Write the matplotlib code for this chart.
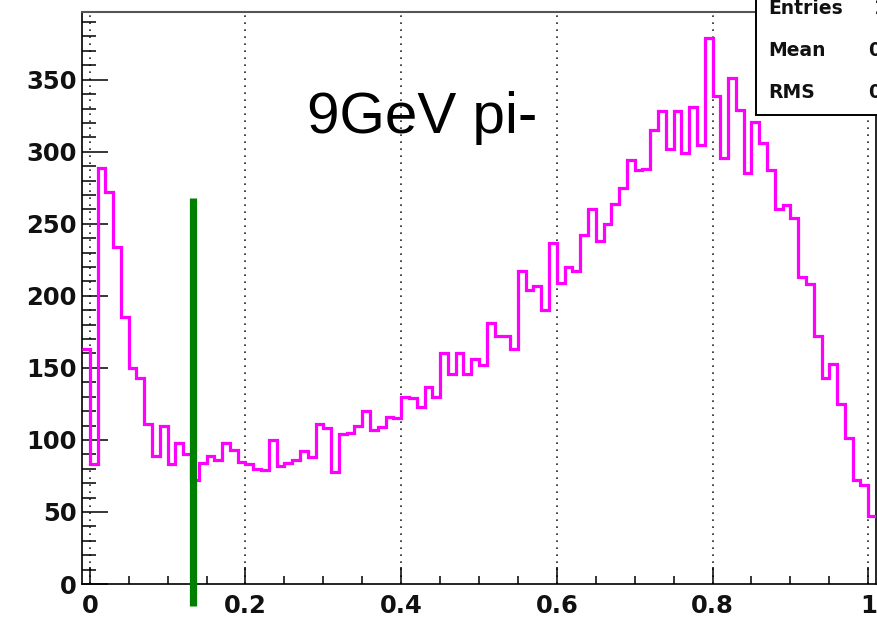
import numpy as np
import matplotlib
matplotlib.use("Agg")
import matplotlib.pyplot as plt
from matplotlib.ticker import FixedLocator, MultipleLocator
from matplotlib.patches import Rectangle

# Histogram contents: 102 bins of width 0.01 from -0.01 to 1.01
hist_range = (-0.01, 1.01)
counts = [
    163, 83, 289, 272, 234, 185, 150, 143, 111, 89,
    110, 83, 98, 90, 72, 84, 89, 86, 98, 93,
    85, 83, 80, 79, 100, 82, 84, 86, 92, 88,
    111, 108, 78, 104, 105, 110, 120, 107, 109, 116,
    115, 130, 129, 123, 137, 130, 160, 146, 160, 146,
    156, 152, 181, 172, 172, 163, 217, 204, 207, 190,
    237, 209, 220, 217, 242, 260, 238, 250, 264, 275,
    294, 287, 288, 315, 328, 302, 328, 299, 331, 305,
    379, 339, 296, 351, 329, 285, 321, 306, 287, 260,
    263, 254, 213, 208, 172, 143, 153, 125, 101, 72,
    69, 47,
]
cut_x = 0.132
cut_y = (-15, 268)

x_ticks = [0.0, 0.2, 0.4, 0.6, 0.8, 1.0]
x_tick_labels = ["0", "0.2", "0.4", "0.6", "0.8", "1"]
y_ticks = [0, 50, 100, 150, 200, 250, 300, 350]
y_tick_labels = ["0", "50", "100", "150", "200", "250", "300", "350"]
title_text = "9GeV pi-"
stat_names = ["Entries", "Mean", "RMS"]

W, H = 877, 621
fig = plt.figure(figsize=(W / 100, H / 100), dpi=100)
ax = fig.add_axes([82 / W, 1 - 584 / H, (876 - 82) / W, (584 - 12) / H])

edges = np.linspace(hist_range[0], hist_range[1], len(counts) + 1)
ax.stairs(counts, edges, baseline=None, color="#ff00ff", lw=2.3, zorder=3)

ax.set_xlim(*hist_range)
ax.set_ylim(0, 397)

# axis frame
for side in ("left", "bottom", "right"):
    ax.spines[side].set_color("black")
    ax.spines[side].set_linewidth(1.2)
ax.spines["top"].set_color("#555555")
ax.spines["top"].set_linewidth(1.5)

ax.xaxis.set_major_locator(FixedLocator(x_ticks))
ax.xaxis.set_minor_locator(MultipleLocator(0.05))
ax.yaxis.set_major_locator(FixedLocator(y_ticks))
ax.yaxis.set_minor_locator(MultipleLocator(10))
ax.set_xticklabels(x_tick_labels)
ax.set_yticklabels(y_tick_labels)

ax.tick_params(axis="both", which="both", direction="in", top=False, right=False,
               width=1.1, color="black")
ax.tick_params(axis="y", which="major", length=18.5, pad=4)
ax.tick_params(axis="y", which="minor", length=10)
ax.tick_params(axis="x", which="major", length=12.5, pad=7)
ax.tick_params(axis="x", which="minor", length=6)
for lab in ax.get_xticklabels() + ax.get_yticklabels():
    lab.set_fontfamily("DejaVu Sans")
    lab.set_fontweight("bold")
    lab.set_fontsize(17.5)
    lab.set_color("#111111")

ax.xaxis.grid(True, which="major", linestyle=(0, (1, 3.2)), color="#222222", lw=1.2)
ax.set_axisbelow(True)

# cut position marker
ax.plot([cut_x, cut_x], cut_y, color="#008000", lw=5.2, solid_capstyle="butt",
        clip_on=False, zorder=4)

# label
fig.text(307 / W, 1 - 133 / H, title_text, fontsize=42, family="Liberation Sans",
         ha="left", va="baseline", color="black")

# statistics box
vals = np.array(counts, dtype=float)
centers = 0.5 * (edges[:-1] + edges[1:])
entries = int(round(vals.sum()))
mean = float((vals * centers).sum() / vals.sum())
rms = float(np.sqrt((vals * (centers - mean) ** 2).sum() / vals.sum()))
stat_values = [f"{entries}", f"{mean:.4f}", f"{rms:.4f}"]

box = Rectangle((756 / W, 1 - 115 / H), 0.2, 0.3, transform=fig.transFigure,
                facecolor="white", edgecolor="black", lw=1.4, zorder=10)
fig.add_artist(box)
name_y = [8, 51, 93]
value_x = [874, 868, 868]
for name, val, yy, vx in zip(stat_names, stat_values, name_y, value_x):
    fig.text(768 / W, 1 - yy / H, name, fontsize=13.5, fontweight="bold",
             family="DejaVu Sans", ha="left", va="center", zorder=11, color="#111111")
    fig.text(vx / W, 1 - yy / H, val, fontsize=13.5, fontweight="bold",
             family="DejaVu Sans", ha="left", va="center", zorder=11, color="#111111")

fig.savefig("out.png", dpi=100)
